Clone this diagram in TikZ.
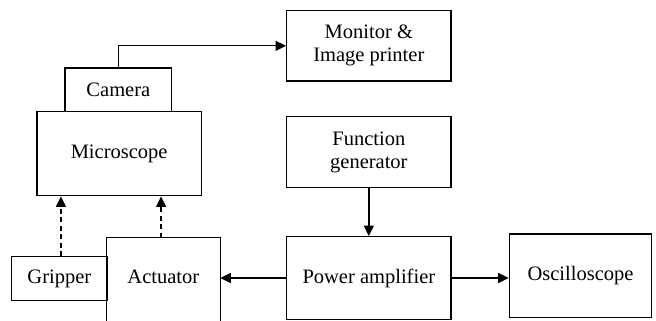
\documentclass[tikz,border=0pt]{standalone}
\usepackage{fontspec}
\setmainfont{Liberation Serif}
\usetikzlibrary{arrows.meta}
\begin{document}
\begin{tikzpicture}[x=1pt,y=-1pt,
  box/.style={draw, line width=1.3pt, inner sep=0pt, align=center,
    font=\fontsize{20.5pt}{23pt}\selectfont},
  conn/.style={line width=1.3pt, -{Triangle[length=10.5pt,width=10pt]}},
  dconn/.style={conn, dash pattern=on 5pt off 3.5pt}]
\useasboundingbox (0,0) rectangle (656,321);
\fill[white] (0,0) rectangle (656,321);
\node[box, minimum width=164.3pt, minimum height=70.3pt] (mon) at (368.85,45.85) {Monitor \&\\Image printer};
\node[box, minimum width=106.7pt, minimum height=43.7pt] (cam) at (118.35,89.85) {Camera};
\node[box, minimum width=164.3pt, minimum height=84pt] (mic) at (119.15,153.7) {Microscope};
\node[box, minimum width=164.3pt, minimum height=70.6pt] (fg) at (368.85,152) {Function\\generator};
\node[box, minimum width=164.3pt, minimum height=82.6pt] (pa) at (368.85,278) {Power amplifier};
\node[box, minimum width=142.4pt, minimum height=83.7pt] (osc) at (580.5,275.85) {Oscilloscope};
\node[box, draw=none, minimum width=112.7pt, minimum height=77.7pt] (act) at (163.35,277.15) {Actuator};
\draw[line width=1.3pt] ([yshift=-20pt]act.south west) -- (act.north west) -- (act.north east) -- ([yshift=-20pt]act.south east);
\node[box, minimum width=95.3pt, minimum height=43.6pt] (grip) at (59.35,278.5) {Gripper};
\draw[conn] (cam.north) |- (mon.west);
\draw[conn] (fg.south) -- (pa.north);
\draw[conn] (pa.west) -- (pa.west -| act.east);
\draw[conn] (pa.east) -- (pa.east -| osc.west);
\draw[dconn] ([xshift=1.6pt]grip.north) -- ([xshift=1.6pt]grip.north |- mic.south);
\draw[dconn] ([xshift=-2.3pt]act.north) -- ([xshift=-2.3pt]act.north |- mic.south);
\end{tikzpicture}
\end{document}
